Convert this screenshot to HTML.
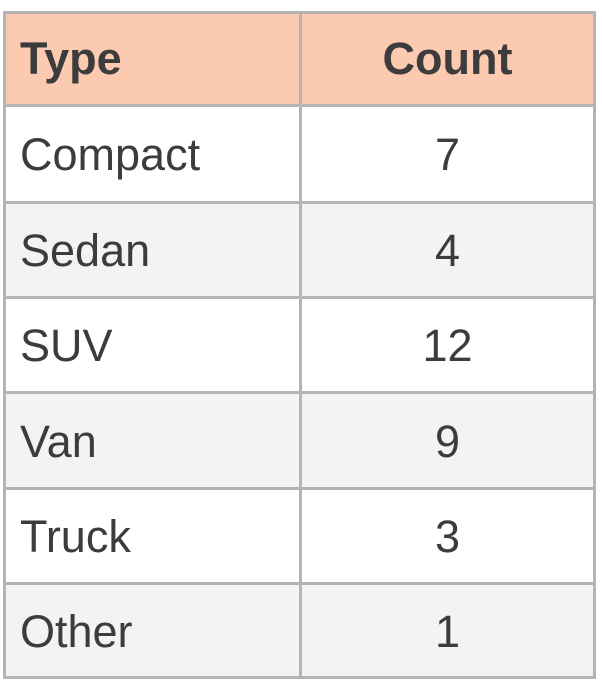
<!DOCTYPE html>
<html><head><meta charset="utf-8"><style>
html,body{margin:0;padding:0;background:#fff;width:602px;height:686px;overflow:hidden}
.t{position:absolute;left:3px;top:11px;width:593px;height:668px;font-family:"Liberation Sans",sans-serif;color:#3c3c3c}
.r{position:absolute;left:0;width:593px;box-sizing:border-box}
.c{position:absolute;top:5px;bottom:0;display:flex;align-items:center;font-size:45px}
.c1{left:3px;width:293px;padding-left:14px;box-sizing:border-box}
.c2{left:299px;width:291px;justify-content:center}
.h .c{font-weight:bold;top:2px}
.hl{position:absolute;left:0;width:593px;height:3px;background:#b4b4b4}
.vl{position:absolute;top:0;width:3px;height:668px;background:#b4b4b4}
</style></head><body>
<div class="t" id="tbl"></div>
<script>
const types=["Compact","Sedan","SUV","Van","Truck","Other"];
const counts=[7,4,12,9,3,1];
const tbl=document.getElementById('tbl');
const tops=[0,93,190,285,380,476,571,665];
function row(i,a,b,bg,isH){
  const r=document.createElement('div');
  
  
  r.className='r'+(isH?' h':'');
  r.style.top=tops[i]+'px';r.style.height=(tops[i+1]-tops[i])+'px';r.style.background=bg;
  const c1=document.createElement('div');c1.className='c c1';c1.textContent=a;
  
  
  const c2=document.createElement('div');c2.className='c c2';c2.textContent=b;
  
  
  r.appendChild(c1);r.appendChild(c2);tbl.appendChild(r);
}
row(0,"Type","Count","#fbcab1",true);
types.forEach((t,i)=>row(i+1,t,String(counts[i]),i%2===0?"#ffffff":"#f3f3f3",false));
tops.forEach(y=>{const l=document.createElement('div');l.className='hl';l.style.top=y+'px';


tbl.appendChild(l);});
[0,296,590].forEach(x=>{const l=document.createElement('div');l.className='vl';l.style.left=x+'px';


tbl.appendChild(l);});
</script>
</body></html>
